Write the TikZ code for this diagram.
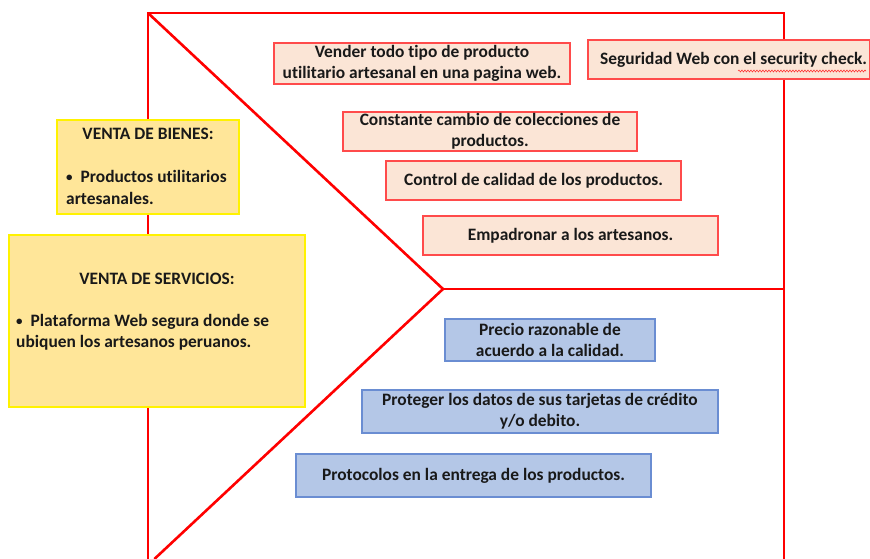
\documentclass[tikz,border=0pt]{standalone}
\usepackage{fontspec}
\setmainfont[Ligatures=NoCommon]{Carlito}
\usetikzlibrary{decorations.pathmorphing}
\definecolor{frame}{HTML}{FF0000}
\definecolor{peach}{HTML}{FBE5D6}
\definecolor{peachline}{HTML}{FF4B4B}
\definecolor{bluefill}{HTML}{B4C7E7}
\definecolor{blueline}{HTML}{6A8DD2}
\definecolor{yelfill}{HTML}{FFE699}
\definecolor{yelline}{HTML}{FFF200}
\newcommand{\smbul}{\raisebox{1.2pt}{\fontsize{13}{13}\selectfont •}}
\tikzset{
  x=1pt, y=-1pt,
  every node/.style={font=\fontsize{17.4}{20.5}\selectfont\bfseries, text=black!90, inner sep=0pt},
  redbox/.style={draw=peachline, fill=peach, line width=1.3pt, align=center},
  bluebox/.style={draw=blueline, fill=bluefill, line width=1.3pt, align=center},
  yelbox/.style={draw=yelline, fill=yelfill, line width=1.3pt},
  frameline/.style={draw=frame, line width=2.6pt},
}
\begin{document}
\begin{tikzpicture}
\useasboundingbox (0,0) rectangle (870,559);
\fill[white] (0,0) rectangle (870,559);
% frame
\coordinate (tl) at (148,13);
\coordinate (tr) at (784,13);
\coordinate (bl) at (148,559);
\coordinate (br) at (784,559);
\coordinate (apex) at (443,289);
\coordinate (mr) at (784,289);
\coordinate (db) at (154.4,559);
\draw[frameline, line join=miter] (bl) -- (tl) -- (tr) -- (br);
\draw[frameline] (tl) -- (apex) -- (db);
\draw[frameline] (apex) -- (mr);
% red boxes
\node[redbox, minimum width=296, minimum height=41] (vender) at (422,63.5)
  {Vender todo tipo de producto\\utilitario artesanal en una pagina web.};
\node[redbox, minimum width=282, minimum height=39] (seg) at (729,59.5) {};
\node[anchor=west] (segt) at (600,60) {Seguridad Web con el security check.};
\node[redbox, minimum width=294, minimum height=39] (const) at (490,131.5)
  {Constante cambio de colecciones de\\productos.};
\node[redbox, minimum width=295, minimum height=39] (control) at (533.5,180.5)
  {Control de calidad de los productos.};
\node[redbox, minimum width=295, minimum height=39] (empa) at (570.5,235.5)
  {Empadronar a los artesanos.};
% blue boxes
\node[bluebox, minimum width=210, minimum height=42] (precio) at (550,340)
  {Precio razonable de\\acuerdo a la calidad.};
\node[bluebox, minimum width=356, minimum height=43] (prot) at (540,411.5)
  {Proteger los datos de sus tarjetas de crédito\\y/o debito.};
\node[bluebox, minimum width=355, minimum height=43] (protoc) at (473.5,475.5)
  {Protocolos en la entrega de los productos.};
% yellow boxes
\node[yelbox, minimum width=182, minimum height=94] (bienes) at (148,167) {};
\node (bienesh) at (148,134) {VENTA DE BIENES:};
\node[anchor=north west, align=left, font=\fontsize{17.4}{22}\selectfont\bfseries] (bienest) at (66,170)
  {\smbul\hspace{8pt}Productos utilitarios\\artesanales.};
\node[yelbox, minimum width=296, minimum height=172] (serv) at (157,321) {};
\node (servh) at (157,279) {VENTA DE SERVICIOS:};
\node[anchor=north west, align=left, font=\fontsize{17.4}{21.5}\selectfont\bfseries] (servt) at (16,314)
  {\smbul\hspace{8pt}Plataforma Web segura donde se\\ubiquen los artesanos peruanos.};
% spell-check underline
\coordinate (w1) at (738,71);
\coordinate (w2) at (866,71);
\draw[red!80, line width=0.6pt, decorate, decoration={snake, amplitude=0.9pt, segment length=3pt}] (w1) -- (w2);
\end{tikzpicture}
\end{document}
